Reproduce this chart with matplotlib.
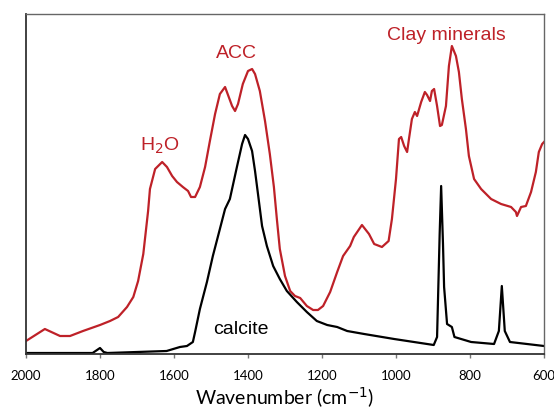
import matplotlib.pyplot as plt

# ATR-FTIR spectra, absorbance in arbitrary units
sample_wn = [2000, 1949, 1908, 1881, 1846, 1800, 1773, 1751, 1727, 1710, 1697, 1683,
             1670, 1665, 1651, 1632, 1619, 1605, 1592, 1576, 1562, 1554, 1543, 1530,
             1516, 1503, 1489, 1476, 1462, 1457, 1443, 1435, 1427, 1414, 1400, 1389,
             1381, 1368, 1354, 1341, 1330, 1322, 1314, 1300, 1286, 1273, 1259, 1241,
             1224, 1211, 1197, 1178, 1159, 1143, 1124, 1114, 1092, 1073, 1059, 1038,
             1020, 1011, 1000, 992, 986, 978, 970, 965, 957, 949, 943, 932, 922, 916,
             908, 903, 897, 889, 881, 876, 865, 857, 849, 838, 830, 822, 811, 803,
             789, 770, 743, 716, 689, 676, 673, 662, 649, 635, 622, 614, 605, 600]
sample_abs = [13, 25, 18, 18, 23, 29, 33, 37, 47, 57, 73, 100, 143, 165, 185, 192,
              187, 178, 172, 167, 163, 157, 157, 167, 187, 213, 240, 260, 267, 262,
              248, 243, 250, 270, 283, 285, 280, 263, 233, 200, 167, 135, 105, 78, 63,
              58, 56, 48, 44, 44, 48, 62, 82, 98, 108, 117, 129, 120, 110, 107, 113,
              135, 175, 215, 217, 208, 202, 215, 235, 242, 238, 252, 262, 259, 253,
              263, 265, 248, 228, 229, 248, 288, 308, 298, 282, 255, 225, 198, 175,
              165, 155, 150, 147, 142, 138, 147, 148, 162, 182, 202, 210, 212]

calcite_wn = [2000, 1820, 1800, 1790, 1780, 1620, 1584, 1565, 1549, 1543, 1530, 1511,
              1495, 1476, 1462, 1449, 1430, 1416, 1408, 1400, 1389, 1381, 1373, 1362,
              1349, 1332, 1314, 1295, 1268, 1241, 1214, 1186, 1159, 1132, 1086, 1005,
              898, 889, 882, 878, 873, 870, 862, 849, 842, 797, 735, 722, 714, 706,
              692, 600]
calcite_abs = [1, 1, 6, 2, 1, 3, 7, 8, 12, 22, 45, 72, 98, 125, 145, 155, 187, 210,
               219, 215, 203, 183, 160, 128, 108, 88, 75, 63, 52, 42, 33, 29, 27, 23,
               20, 15, 9, 17, 120, 168, 110, 67, 30, 27, 17, 12, 10, 23, 68, 23, 12, 8]

plt.rcParams['font.family'] = ['Lato', 'DejaVu Sans']

fig = plt.figure(figsize=(5.54, 4.10), dpi=100)
ax = fig.add_axes([26 / 554, 1 - 355 / 410, 518 / 554, 340 / 410])

red = '#BE2128'
ax.plot(sample_wn, sample_abs, color=red, lw=1.6)
ax.plot(calcite_wn, calcite_abs, color='black', lw=1.6)

ax.set_xlim(2000, 600)
ax.set_ylim(0, 340)
ax.set_xticks([2000, 1800, 1600, 1400, 1200, 1000, 800, 600])
ax.set_yticks([])
ax.tick_params(axis='x', direction='out', length=3, width=1, color='#777777',
               labelsize=9.5, pad=8)
for side in ['top', 'right']:
    ax.spines[side].set_color('#666666')
    ax.spines[side].set_linewidth(1.0)
for side in ['left', 'bottom']:
    ax.spines[side].set_color('#333333')
    ax.spines[side].set_linewidth(1.3)

ax.set_xlabel('Wavenumber (cm$^{-1}$)', fontsize=14, labelpad=2)

ax.text(1430, 301, 'ACC', color=red, fontsize=14, ha='center', va='center',
        family='Liberation Sans')
ax.text(1638, 209, 'H$_2$O', color=red, fontsize=14, ha='center', va='center',
        family='Liberation Sans')
ax.text(865, 320, 'Clay minerals', color=red, fontsize=14, ha='center', va='center',
        family='Liberation Sans')
ax.text(1419, 25, 'calcite', color='black', fontsize=14, ha='center', va='center',
        family='Liberation Sans')

plt.savefig('out.png')
